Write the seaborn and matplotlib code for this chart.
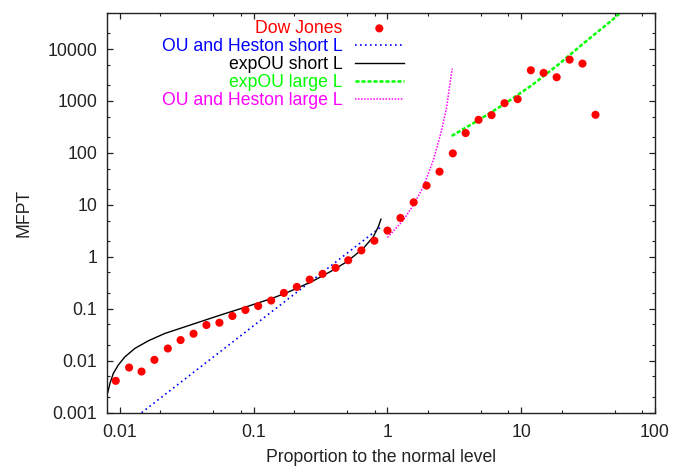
import numpy as np
import pandas as pd
import matplotlib
matplotlib.use("Agg")
import matplotlib.pyplot as plt
from matplotlib.ticker import FixedLocator, FixedFormatter, LogLocator, NullFormatter
import seaborn as sns

# ---------------- data ----------------
dj_x = [0.0093, 0.0117, 0.0145, 0.0181, 0.0228, 0.0284, 0.0355, 0.0443, 0.0554, 0.0693,
        0.0867, 0.108, 0.135, 0.168, 0.210, 0.262, 0.327, 0.409, 0.509, 0.638,
        0.798, 1.0, 1.25, 1.57, 1.96, 2.45, 3.08, 3.84, 4.8, 6.0,
        7.5, 9.4, 11.8, 14.7, 18.4, 23.0, 28.7, 35.9]
dj_y = [0.0041, 0.0074, 0.0062, 0.0104, 0.0172, 0.0250, 0.0331, 0.0487, 0.054, 0.0726,
        0.0948, 0.113, 0.144, 0.202, 0.264, 0.365, 0.470, 0.614, 0.86, 1.33,
        2.04, 3.2, 5.6, 11.2, 23.5, 43.6, 98, 241, 434, 534,
        907, 1083, 3900, 3467, 2862, 6250, 5240, 542]

ou_short_x = [0.0145, 0.88]
ou_short_y = [0.001, 3.65]

exp_short_x = [0.00796, 0.00842, 0.00892, 0.00971, 0.01089, 0.01294, 0.01629, 0.0217,
               0.0306, 0.0433, 0.0592, 0.0767, 0.1364, 0.1715, 0.2095, 0.2786,
               0.3715, 0.4954, 0.659, 0.783, 0.853, 0.894]
exp_short_y = [0.00203, 0.00367, 0.00571, 0.00826, 0.0119, 0.0173, 0.0242, 0.0336,
               0.045, 0.0605, 0.079, 0.0973, 0.158, 0.198, 0.2466, 0.345,
               0.514, 0.80, 1.45, 2.42, 3.77, 5.3]

exp_large_x = [3.02, 4.77, 7.56, 11.97, 18.9, 30.0, 47.5, 56.0]
exp_large_y = [212, 425, 889, 2000, 5000, 13600, 35600, 52000]

ou_large_x = [1.0, 1.313, 1.56, 1.853, 2.20, 2.54, 2.77, 2.93, 3.05]
ou_large_y = [2.36, 5.07, 9.86, 22.2, 72.3, 273, 766, 2158, 4190]

x_ticks = [0.01, 0.1, 1, 10, 100]
x_tick_labels = ["0.01", "0.1", "1", "10", "100"]
y_ticks = [0.001, 0.01, 0.1, 1, 10, 100, 1000, 10000]
y_tick_labels = ["0.001", "0.01", "0.1", "1", "10", "100", "1000", "10000"]

labels = ["Dow Jones", "OU and Heston short L", "expOU short L",
          "expOU large L", "OU and Heston large L"]
colors = ["#ff0000", "#0000ff", "#000000", "#00ff00", "#ff00ff"]

# ---------------- style ----------------
plt.rcParams["font.family"] = ["Liberation Sans", "DejaVu Sans"]
plt.rcParams["font.size"] = 12.7

fig = plt.figure(figsize=(6.82, 4.66), dpi=100)
ax = fig.add_axes([107 / 682, 53.3 / 466, 548 / 682, 400 / 466])

sns.scatterplot(x=dj_x, y=dj_y, ax=ax, color=colors[0], s=34, edgecolor="none",
                label=labels[0], zorder=5)
sns.lineplot(x=ou_short_x, y=ou_short_y, ax=ax, color=colors[1], lw=1.2,
             linestyle=(0, (1.0, 2.0)), label=labels[1], estimator=None)
sns.lineplot(x=exp_short_x, y=exp_short_y, ax=ax, color=colors[2], lw=1.0,
             label=labels[2], estimator=None)
sns.lineplot(x=exp_large_x, y=exp_large_y, ax=ax, color=colors[3], lw=1.8,
             linestyle=(0, (1.6, 0.8)), label=labels[3], estimator=None)
sns.lineplot(x=ou_large_x, y=ou_large_y, ax=ax, color=colors[4], lw=1.1,
             linestyle=(0, (1.0, 1.0)), label=labels[4], estimator=None)

ax.set_xscale("log")
ax.set_yscale("log")
ax.set_xlim(0.008, 100)
ax.set_ylim(0.001, 50000)

ax.xaxis.set_major_locator(FixedLocator(x_ticks))
ax.xaxis.set_major_formatter(FixedFormatter(x_tick_labels))
ax.yaxis.set_major_locator(FixedLocator(y_ticks))
ax.yaxis.set_major_formatter(FixedFormatter(y_tick_labels))
ax.xaxis.set_minor_locator(LogLocator(base=10, subs=[2, 5, 8], numticks=20))
ax.yaxis.set_minor_locator(LogLocator(base=10, subs=[2, 5], numticks=20))
ax.xaxis.set_minor_formatter(NullFormatter())
ax.yaxis.set_minor_formatter(NullFormatter())

ax.tick_params(which="both", direction="in", top=True, right=True,
               colors="#222222", labelcolor="#222222")
ax.tick_params(which="major", length=4.5, width=0.9, labelsize=12.7)
ax.tick_params(axis="x", which="major", pad=8)
ax.tick_params(axis="y", which="major", pad=7)
ax.tick_params(which="minor", length=2.5, width=0.8)
for sp in ax.spines.values():
    sp.set_linewidth(1.0)
    sp.set_color("#222222")

ax.set_xlabel("Proportion to the normal level", fontsize=12.7, color="#222222", labelpad=6)
ax.set_ylabel("MFPT", fontsize=12.7, color="#222222", labelpad=10.5)

leg = ax.legend(loc="upper right", bbox_to_anchor=((404 - 107) / 548, (412.7 - 20) / 400),
                frameon=False, markerfirst=False, handlelength=2.8, handletextpad=0.7,
                labelspacing=0.06, borderpad=0, borderaxespad=0, fontsize=12.7,
                scatterpoints=1)
for t, c in zip(leg.get_texts(), colors):
    t.set_color(c)

fig.savefig("out.png", dpi=100)
